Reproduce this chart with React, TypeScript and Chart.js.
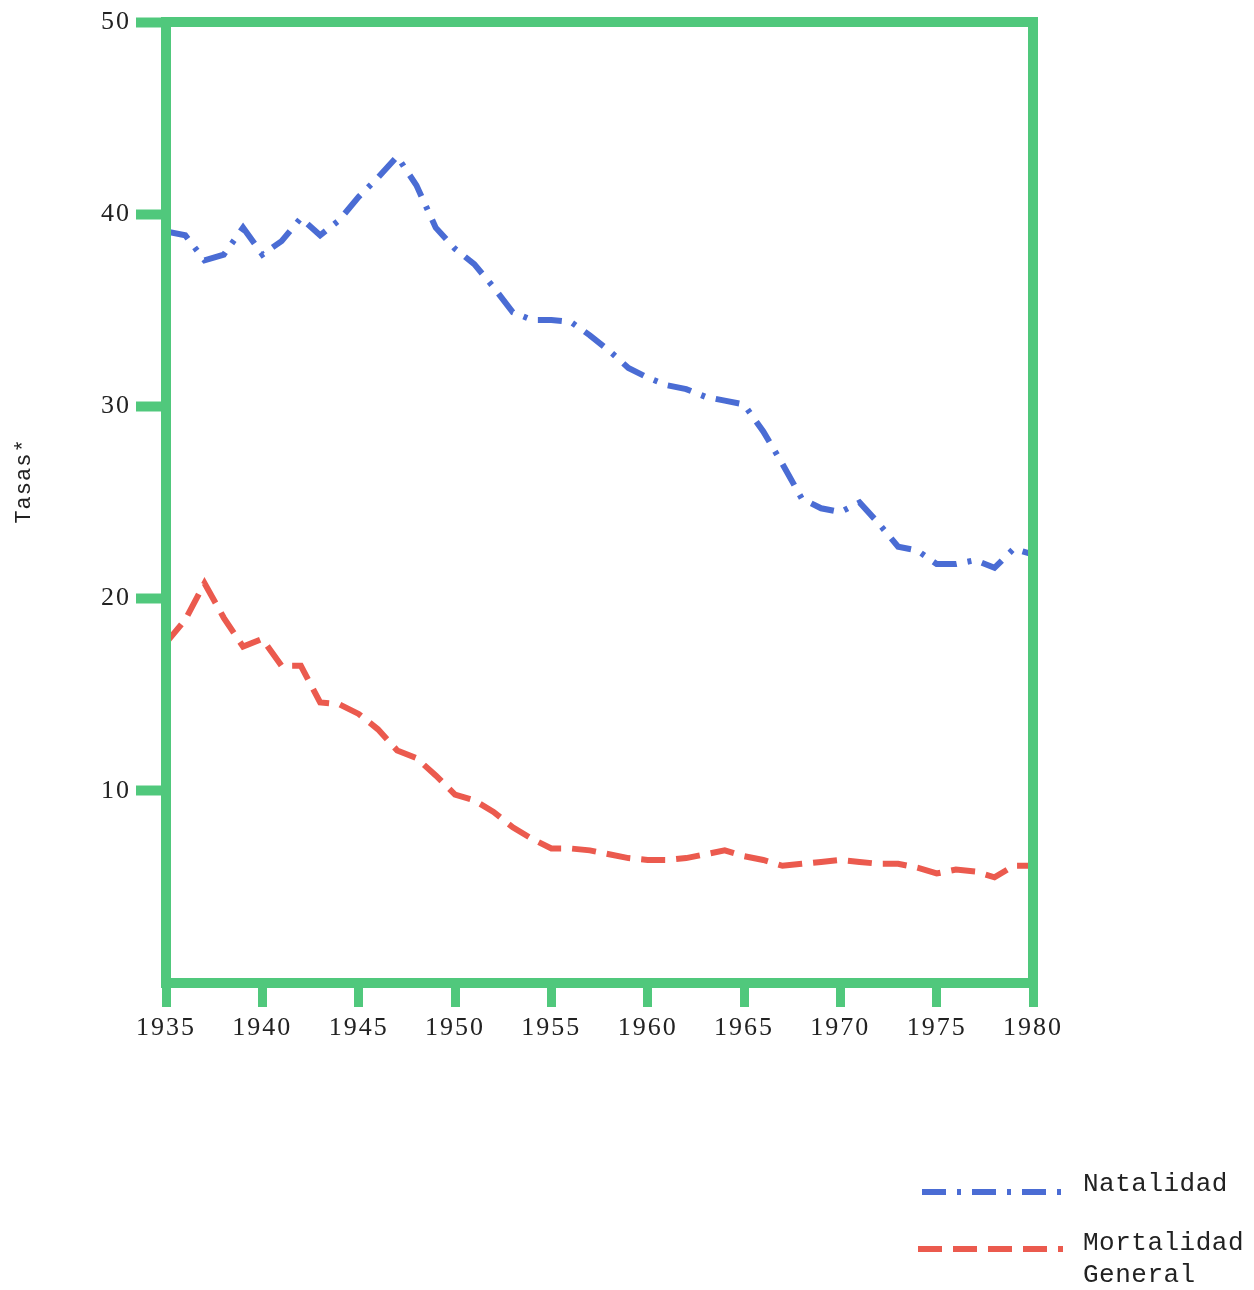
import React, { useEffect, useRef } from "react";
import { Chart, registerables } from "chart.js";

Chart.register(...registerables);

const years = [
  1935, 1936, 1937, 1938, 1939, 1940, 1941, 1942, 1943, 1944,
  1945, 1946, 1947, 1948, 1949, 1950, 1951, 1952, 1953, 1954,
  1955, 1956, 1957, 1958, 1959, 1960, 1961, 1962, 1963, 1964,
  1965, 1966, 1967, 1968, 1969, 1970, 1971, 1972, 1973, 1974,
  1975, 1976, 1977, 1978, 1979, 1980,
];

const natalidad = [
  39.1, 38.9, 37.6, 37.9, 39.3, 37.9, 38.6, 39.8, 38.9, 39.7,
  40.9, 41.9, 43.0, 41.5, 39.3, 38.2, 37.4, 36.2, 34.9, 34.5,
  34.5, 34.4, 33.7, 32.9, 32.0, 31.5, 31.1, 30.9, 30.5, 30.3,
  30.1, 28.7, 27.0, 25.2, 24.7, 24.5, 25.0, 23.9, 22.7, 22.5,
  21.8, 21.8, 22.0, 21.6, 22.6, 22.3,
];

const mortalidad = [
  17.7, 18.9, 20.8, 19.0, 17.5, 17.9, 16.5, 16.5, 14.6, 14.5,
  14.0, 13.2, 12.1, 11.7, 10.8, 9.8, 9.5, 8.9, 8.1, 7.5,
  7.0, 7.0, 6.9, 6.7, 6.5, 6.4, 6.4, 6.5, 6.7, 6.9,
  6.6, 6.4, 6.1, 6.2, 6.3, 6.4, 6.3, 6.2, 6.2, 6.0,
  5.7, 5.9, 5.8, 5.5, 6.1, 6.1,
];

const seriesLabels = ["Natalidad", "Mortalidad General"];
const yTitle = "Tasas*";
const xTickValues = [1935, 1940, 1945, 1950, 1955, 1960, 1965, 1970, 1975, 1980];
const yTickValues = [10, 20, 30, 40, 50];

const GREEN = "#50c87c";
const BLUE = "#4a6cd4";
const RED = "#eb5a4e";
const TEXT = "#222222";

const framePlugin = {
  id: "framePlugin",
  beforeDraw(chart: any) {
    (chart.ctx as any).letterSpacing = "2px";
  },
  afterDatasetsDraw(chart: any) {
    const { ctx, chartArea } = chart;
    const { left, top, right, bottom } = chartArea;
    ctx.save();
    ctx.strokeStyle = GREEN;
    ctx.lineWidth = 10;
    ctx.setLineDash([]);
    ctx.strokeRect(left, top, right - left, bottom - top);
    ctx.restore();
  },
  afterDraw(chart: any) {
    const { ctx } = chart;
    // y title
    ctx.save();
    (ctx as any).letterSpacing = "1px";
    ctx.fillStyle = TEXT;
    ctx.font = '22px "Liberation Mono"';
    ctx.translate(24, 481);
    ctx.rotate(-Math.PI / 2);
    ctx.textAlign = "center";
    ctx.textBaseline = "middle";
    ctx.fillText(yTitle, 0, 0);
    ctx.restore();

    // legend
    const items = [
      { ds: chart.data.datasets[0], x0: 922, x1: 1062, ly: 1192, ty: [1184] },
      { ds: chart.data.datasets[1], x0: 918, x1: 1063, ly: 1249, ty: [1243, 1275] },
    ];
    items.forEach((it) => {
      ctx.save();
      ctx.strokeStyle = it.ds.borderColor;
      ctx.lineWidth = it.ds.borderWidth;
      ctx.lineCap = "butt";
      ctx.setLineDash(it.ds.borderDash);
      ctx.beginPath();
      ctx.moveTo(it.x0, it.ly);
      ctx.lineTo(it.x1, it.ly);
      ctx.stroke();
      ctx.setLineDash([]);
      (ctx as any).letterSpacing = "0.5px";
      ctx.fillStyle = TEXT;
      ctx.font = '26px "Liberation Mono"';
      ctx.textAlign = "left";
      ctx.textBaseline = "middle";
      const words = String(it.ds.label).split(" ");
      words.forEach((w: string, i: number) => {
        ctx.fillText(w, 1083, it.ty[i] ?? it.ty[0] + i * 32);
      });
      ctx.restore();
    });
  },
};

export default function App() {
  const canvasRef = useRef<HTMLCanvasElement | null>(null);

  useEffect(() => {
    if (!canvasRef.current) return;
    const chart = new Chart(canvasRef.current, {
      type: "line",
      data: {
        datasets: [
          {
            label: seriesLabels[0],
            data: years.map((y, i) => ({ x: y, y: natalidad[i] })),
            borderColor: BLUE,
            borderWidth: 6,
            borderDash: [24, 11, 4, 11],
            borderCapStyle: "butt",
            pointRadius: 0,
            tension: 0,
            fill: false,
          },
          {
            label: seriesLabels[1],
            data: years.map((y, i) => ({ x: y, y: mortalidad[i] })),
            borderColor: RED,
            borderWidth: 6,
            borderDash: [24, 11],
            borderCapStyle: "butt",
            pointRadius: 0,
            tension: 0,
            fill: false,
          },
        ],
      },
      options: {
        responsive: false,
        animation: false,
        layout: { padding: { left: 0, top: 22, right: 221, bottom: 227 } },
        plugins: {
          legend: { display: false },
          tooltip: { enabled: false },
          title: { display: false },
        },
        scales: {
          x: {
            type: "linear",
            min: 1935,
            max: 1980,
            afterFit: (s: any) => {
              s.height = 80;
            },
            afterBuildTicks: (s: any) => {
              s.ticks = xTickValues.map((v) => ({ value: v }));
            },
            grid: {
              display: true,
              drawOnChartArea: false,
              drawTicks: true,
              tickLength: 24,
              tickWidth: 9,
              tickColor: GREEN,
              color: GREEN,
            },
            border: { display: false },
            ticks: {
              padding: 6,
              color: TEXT,
              font: { family: '"Liberation Serif"', size: 26 },
              maxRotation: 0,
              autoSkip: false,
              callback: (v: any) => String(v),
            },
          },
          y: {
            type: "linear",
            min: 0,
            max: 50,
            afterFit: (s: any) => {
              s.width = 166;
            },
            afterBuildTicks: (s: any) => {
              s.ticks = yTickValues.map((v) => ({ value: v }));
            },
            grid: {
              display: true,
              drawOnChartArea: false,
              drawTicks: true,
              tickLength: 30,
              tickWidth: 10,
              tickColor: GREEN,
              color: GREEN,
            },
            border: { display: false },
            ticks: {
              padding: 5,
              color: TEXT,
              font: { family: '"Liberation Serif"', size: 26 },
              callback: (v: any) => String(v),
            },
          },
        },
      },
      plugins: [framePlugin],
    });
    return () => chart.destroy();
  }, []);

  return (
    <div style={{ position: "absolute", left: 0, top: 0, width: 1254, height: 1290, background: "#ffffff" }}>
      <canvas ref={canvasRef} width={1254} height={1290} style={{ display: "block" }} />
    </div>
  );
}
